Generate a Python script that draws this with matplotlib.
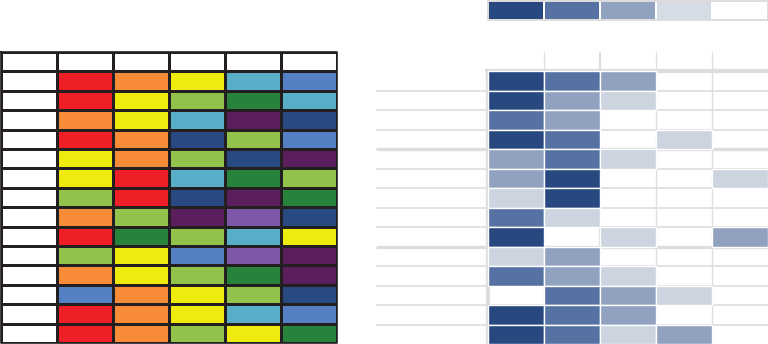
import numpy as np
import matplotlib
matplotlib.use("Agg")
from matplotlib import pyplot as plt
from matplotlib.colors import ListedColormap, BoundaryNorm

# left table: colour category per cell (14 rows x 5 columns)
color_names = ['red', 'orange', 'yellow', 'lightgreen', 'darkgreen',
               'teal', 'blue', 'navy', 'purple', 'violet']
color_hex = ['#EE1F26', '#F78B38', '#EFEB0F', '#93C24A', '#27823B',
             '#5AAFC8', '#5580C4', '#284A80', '#5B1F5E', '#7D58A8']
left_rows = [
    ['red', 'orange', 'yellow', 'teal', 'blue'],
    ['red', 'yellow', 'lightgreen', 'darkgreen', 'teal'],
    ['orange', 'yellow', 'teal', 'purple', 'navy'],
    ['red', 'orange', 'navy', 'lightgreen', 'blue'],
    ['yellow', 'orange', 'lightgreen', 'navy', 'purple'],
    ['yellow', 'red', 'teal', 'darkgreen', 'lightgreen'],
    ['lightgreen', 'red', 'navy', 'purple', 'darkgreen'],
    ['orange', 'lightgreen', 'purple', 'violet', 'navy'],
    ['red', 'darkgreen', 'lightgreen', 'teal', 'yellow'],
    ['lightgreen', 'yellow', 'blue', 'violet', 'purple'],
    ['orange', 'yellow', 'lightgreen', 'darkgreen', 'purple'],
    ['blue', 'orange', 'yellow', 'lightgreen', 'navy'],
    ['red', 'orange', 'yellow', 'teal', 'blue'],
    ['red', 'orange', 'lightgreen', 'yellow', 'darkgreen'],
]
left_groups = [4, 9]  # heavy separators after these rows

# right table: intensity level 0 (none) .. 4 (darkest)
right_levels = [
    [4, 3, 2, 0, 0],
    [4, 2, 1, 0, 0],
    [3, 2, 0, 0, 0],
    [4, 3, 0, 1, 0],
    [2, 3, 1, 0, 0],
    [2, 4, 0, 0, 1],
    [1, 4, 0, 0, 0],
    [3, 1, 0, 0, 0],
    [4, 0, 1, 0, 2],
    [1, 2, 0, 0, 0],
    [3, 2, 1, 0, 0],
    [0, 3, 2, 1, 0],
    [4, 3, 2, 0, 0],
    [4, 3, 1, 2, 0],
]
legend_levels = [4, 3, 2, 1, 0]
blue_hex = ['#FFFFFF', '#CCD4E0', '#91A2C1', '#5572A2', '#284880']
legend_hex = ['#FFFFFF', '#D5DCE6', '#91A2C1', '#5572A2', '#284880']

W, H = 768, 344
GRAY = '#DDDDDD'
DARK = '#231F20'

fig = plt.figure(figsize=(W / 100, H / 100), dpi=100)


def px_axes(x0, y0, x1, y1):
    ax = fig.add_axes([x0 / W, 1 - y1 / H, (x1 - x0) / W, (y1 - y0) / H])
    ax.set_axis_off()
    return ax


# ---- left table ----
ax = px_axes(0.5, 52, 336.5, 343)
idx = np.array([[color_names.index(c) + 1 for c in r] for r in left_rows])
n_rows = len(left_rows)
grid = np.zeros((n_rows + 1, 6), dtype=int)
grid[1:, 1:] = idx
cmap = ListedColormap(['#FFFFFF'] + color_hex)
norm = BoundaryNorm(np.arange(-0.5, len(color_hex) + 1.5), cmap.N)
ax.pcolormesh(grid, cmap=cmap, norm=norm, edgecolors=DARK, linewidth=0.9)
for g in left_groups:
    ax.axhline(g + 1, color=DARK, lw=1.8)
ax.plot([0, 6, 6, 0, 0], [0, 0, n_rows + 1, n_rows + 1, 0], color=DARK,
        lw=1.2, clip_on=False)
ax.set_xlim(0, 6)
ax.set_ylim(n_rows + 1, 0)

# ---- legend strip ----
lax = px_axes(488, 0.5, 767.5, 19.5)
lcmap = ListedColormap(legend_hex)
lnorm = BoundaryNorm(np.arange(-0.5, 5.5), 5)
lax.pcolormesh(np.array([legend_levels]), cmap=lcmap, norm=lnorm,
               edgecolors='white', linewidth=1.2)
lax.plot([0, 5, 5, 0, 0], [0, 0, 1, 1, 0], color=GRAY, lw=1.4, clip_on=False)
lax.set_xlim(0, 5)
lax.set_ylim(1, 0)

# ---- right table ----
rax = px_axes(376, 52, 768, 344)
lev = np.array(right_levels)
n_r = lev.shape[0]
for x in range(1, 5):
    rax.vlines(x, -1, n_r, color=GRAY, lw=1.6 if x == 2 else 0.9, zorder=1)
for y in range(1, n_r):
    heavy = (y in left_groups)
    rax.hlines(y, -2, 5, color=GRAY, lw=2.4 if heavy else 1.2, zorder=1)
rax.hlines(0, -0.05, 5, color=GRAY, lw=3.0, zorder=1)
rax.vlines(0, 0, n_r, color=GRAY, lw=3.0, zorder=1)
for j in range(lev.shape[1]):
    rows = np.nonzero(lev[:, j])[0]
    rax.bar(np.full(len(rows), j + 0.5), 1, bottom=rows, width=1,
            color=[blue_hex[v] for v in lev[rows, j]],
            edgecolor='white', linewidth=1.0, zorder=2)
rax.set_xlim(-2, 5)
rax.set_ylim(n_r, -1)

fig.savefig('out.png', dpi=100)
